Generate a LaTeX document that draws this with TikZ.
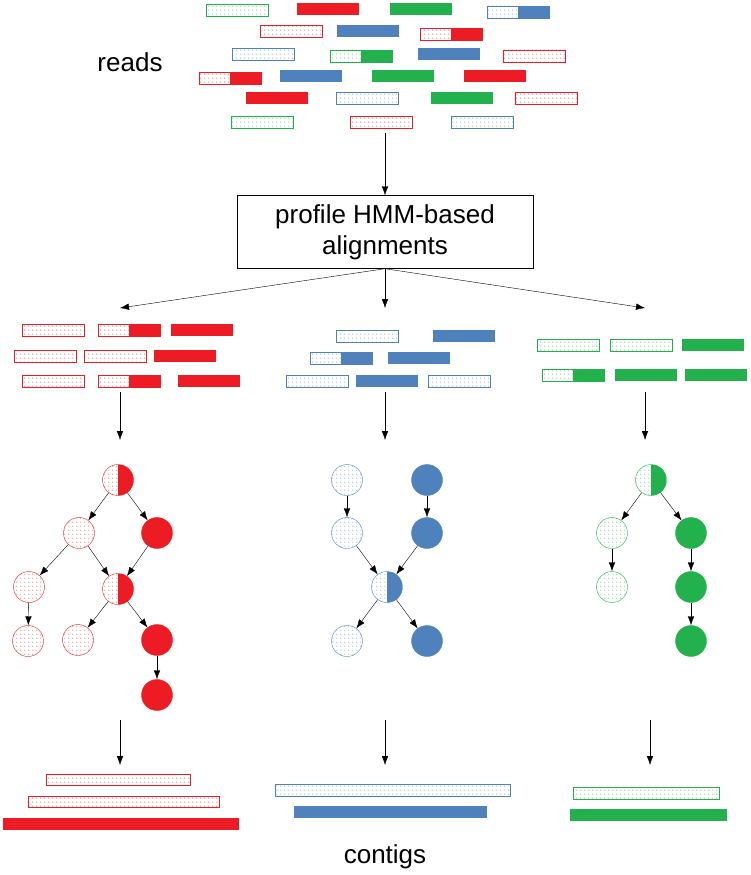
\documentclass[tikz,border=0pt]{standalone}
\usepackage{fontspec}
\setmainfont{Liberation Sans}
\usetikzlibrary{arrows.meta, patterns.meta, positioning}
\definecolor{cRed}{RGB}{237,28,36}
\definecolor{cBlue}{RGB}{79,129,189}
\definecolor{cGreen}{RGB}{34,177,76}
\pgfdeclarepattern{
  name=sparsedots, parameters={}, bottom left={\pgfpoint{0pt}{0pt}},
  top right={\pgfpoint{4pt}{4pt}}, tile size={\pgfpoint{4pt}{4pt}},
  tile transformation={}, defaults={}, code={
    \pgfpathcircle{\pgfpoint{1pt}{1pt}}{0.6pt}\pgfusepath{fill}}}
% read bars: x, y of top left corner, colour (62 x 12)
\newcommand{\dread}[3]{\draw[#3, pattern=sparsedots, pattern color=#3] (#1,#2) rectangle ++(62,12);}
\newcommand{\sread}[3]{\fill[#3] (#1,#2) rectangle ++(62,12);}
\newcommand{\hread}[3]{\draw[#3, pattern=sparsedots, pattern color=#3] (#1,#2) rectangle ++(31,12);
  \fill[#3] (#1+31,#2) rectangle ++(31,12); \draw[#3] (#1,#2) rectangle ++(62,12);}
\begin{document}
\begin{tikzpicture}
  [
    x=1pt, y=-1pt,
    Dot/.style={circle, draw=#1, pattern=sparsedots, pattern color=#1, minimum size=31pt, inner sep=0pt},
    Full/.style={circle, draw=#1, fill=#1, minimum size=31pt, inner sep=0pt},
    Half/.style={Dot=#1, path picture={\fill[#1] (path picture bounding box.north) rectangle (path picture bounding box.south east);}},
    Arr/.style={-{Latex[length=9pt, width=6.5pt]}, black},
    Lbl/.style={font=\fontsize{26}{31}\selectfont}
  ]
  \useasboundingbox (0,0) rectangle (751,875);
  % Reads
  \dread{206}{4}{cGreen} \sread{297}{3}{cRed} \sread{390}{3}{cGreen} \hread{487}{6}{cBlue}
  \dread{260}{25}{cRed} \sread{337}{25}{cBlue} \hread{420}{28}{cRed}
  \dread{232}{48}{cBlue} \hread{330}{50}{cGreen} \sread{418}{48}{cBlue} \dread{503}{50}{cRed}
  \hread{199}{72}{cRed} \sread{280}{70}{cBlue} \sread{372}{70}{cGreen} \sread{464}{70}{cRed}
  \sread{246}{92}{cRed} \dread{336}{92}{cBlue} \sread{431}{92}{cGreen} \dread{515}{92}{cRed}
  \dread{231}{116}{cGreen} \dread{350}{116}{cRed} \dread{451}{116}{cBlue}
  \node[Lbl] (reads) at (130,62) {reads};
  \coordinate (rbot) at (385,133);
  \node[draw, Lbl, align=center, minimum width=296pt, minimum height=73pt, inner sep=2pt] (hmm) at (385,232) {profile HMM-based\\alignments};
  \draw[Arr] (rbot) -- (hmm);
  % Alignments
  \coordinate (al1) at (120,308); \coordinate (al2) at (385,308); \coordinate (al3) at (645,308);
  \foreach \a in {al1,al2,al3} \draw[Arr] (hmm.south) -- (\a);
  \dread{22}{324}{cRed} \hread{98}{324}{cRed} \sread{171}{324}{cRed}
  \dread{14}{350}{cRed} \dread{84}{350}{cRed} \sread{154}{350}{cRed}
  \dread{22}{375}{cRed} \hread{98}{375}{cRed} \sread{178}{375}{cRed}
  \dread{336}{330}{cBlue} \sread{433}{330}{cBlue}
  \hread{310}{352}{cBlue} \sread{388}{352}{cBlue}
  \dread{286}{375}{cBlue} \sread{356}{375}{cBlue} \dread{428}{375}{cBlue}
  \dread{537}{339}{cGreen} \dread{610}{339}{cGreen} \sread{682}{339}{cGreen}
  \hread{542}{369}{cGreen} \sread{615}{369}{cGreen} \sread{685}{369}{cGreen}
  \foreach \x in {120,385,645} \draw[Arr] (\x,392) -- (\x,440);
  % Graphs
  \node[Half=cRed] (r1) at (118,480) {};
  \node[Dot=cRed] (r2) at (79,533) {};
  \node[Full=cRed] (r3) at (157,533) {};
  \node[Dot=cRed] (r4) at (29,587) {};
  \node[Half=cRed] (r5) at (118,589) {};
  \node[Dot=cRed] (r6) at (28,641) {};
  \node[Dot=cRed] (r7) at (78,640) {};
  \node[Full=cRed] (r8) at (157,640) {};
  \node[Full=cRed] (r9) at (157,695) {};
  \node[Dot=cBlue] (b1) at (347,480) {};
  \node[Full=cBlue] (b2) at (427,480) {};
  \node[Dot=cBlue] (b3) at (347,533) {};
  \node[Full=cBlue] (b4) at (427,533) {};
  \node[Half=cBlue] (b5) at (387,587) {};
  \node[Dot=cBlue] (b6) at (347,641) {};
  \node[Full=cBlue] (b7) at (427,641) {};
  \node[Half=cGreen] (g1) at (651,480) {};
  \node[Dot=cGreen] (g2) at (612,533) {};
  \node[Full=cGreen] (g3) at (691,533) {};
  \node[Dot=cGreen] (g4) at (612,587) {};
  \node[Full=cGreen] (g5) at (691,587) {};
  \node[Full=cGreen] (g6) at (691,641) {};
  \foreach \s/\t in {r1/r2,r1/r3,r2/r4,r2/r5,r3/r5,r4/r6,r5/r7,r5/r8,r8/r9,
    b1/b3,b2/b4,b3/b5,b4/b5,b5/b6,b5/b7,g1/g2,g1/g3,g2/g4,g3/g5,g5/g6}
    \draw[Arr] (\s) -- (\t);
  % Contigs
  \foreach \x in {120,385,650} \draw[Arr] (\x,720) -- (\x,765);
  \draw[cRed, pattern=sparsedots, pattern color=cRed] (46,774) rectangle (190,785);
  \draw[cRed, pattern=sparsedots, pattern color=cRed] (28,796) rectangle (219,807);
  \fill[cRed] (3,818) rectangle (239,830);
  \draw[cBlue, pattern=sparsedots, pattern color=cBlue] (275,784) rectangle (510,796);
  \fill[cBlue] (294,806) rectangle (487,818);
  \draw[cGreen, pattern=sparsedots, pattern color=cGreen] (573,787) rectangle (719,799);
  \fill[cGreen] (570,809) rectangle (727,821);
  \node[Lbl] (contigs) at (385,857) {contigs};
\end{tikzpicture}
\end{document}
